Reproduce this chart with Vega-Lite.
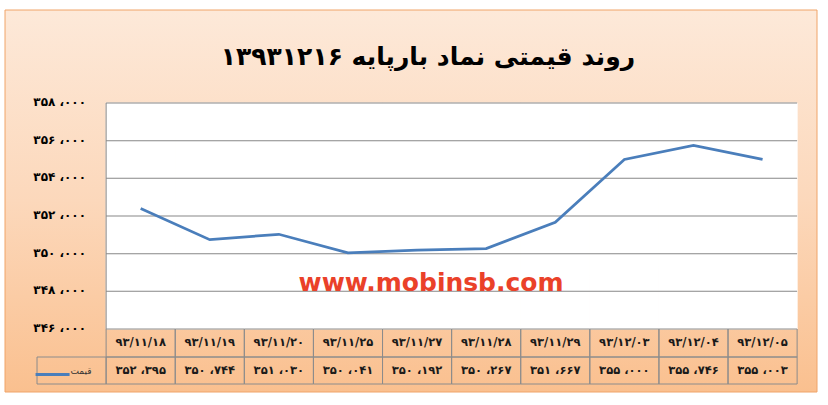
{
  "$schema": "https://vega.github.io/schema/vega-lite/v6.json",
  "width": 812,
  "height": 382,
  "autosize": {"type": "none"},
  "padding": {"left": 5, "top": 10, "right": 11, "bottom": 13},
  "background": "white",
  "title": {
    "text": "روند قیمتی نماد بارپایه ۱۳۹۳۱۲۱۶",
    "font": "DejaVu Sans",
    "fontSize": 25,
    "fontWeight": "bold",
    "color": "#000000",
    "anchor": "middle",
    "dx": 17,
    "offset": -60
  },
  "data": {
    "values": [
      {"date": "۹۳/۱۱/۱۸", "price": 352395},
      {"date": "۹۳/۱۱/۱۹", "price": 350744},
      {"date": "۹۳/۱۱/۲۰", "price": 351030},
      {"date": "۹۳/۱۱/۲۵", "price": 350041},
      {"date": "۹۳/۱۱/۲۷", "price": 350192},
      {"date": "۹۳/۱۱/۲۸", "price": 350267},
      {"date": "۹۳/۱۱/۲۹", "price": 351667},
      {"date": "۹۳/۱۲/۰۳", "price": 355000},
      {"date": "۹۳/۱۲/۰۴", "price": 355746},
      {"date": "۹۳/۱۲/۰۵", "price": 355003}
    ]
  },
  "datasets": {
    "ticks": [
      {"v": 346000}, {"v": 348000}, {"v": 350000}, {"v": 352000},
      {"v": 354000}, {"v": 356000}, {"v": 358000}
    ]
  },
  "layer": [
    {
      "data": {"values": [{"box": "chart"}]},
      "mark": {
        "type": "rect",
        "stroke": "#f0a468",
        "strokeWidth": 1,
        "fill": {
          "gradient": "linear",
          "x1": 0, "y1": 0, "x2": 0, "y2": 1,
          "stops": [
            {"offset": 0, "color": "#fde9d9"},
            {"offset": 0.5, "color": "#fcd8bb"},
            {"offset": 1, "color": "#fac08f"}
          ]
        }
      },
      "encoding": {
        "x": {"value": 0},
        "x2": {"value": "width"},
        "y": {"value": 0},
        "y2": {"value": "height"}
      }
    },
    {
      "mark": {"type": "rect", "fill": "white", "stroke": "white", "strokeWidth": 1},
      "encoding": {
        "x": {"field": "date", "type": "nominal", "axis": null},
        "y": {"datum": 346000, "axis": null},
        "y2": {"datum": 358000}
      }
    },
    {
      "data": {"name": "ticks"},
      "transform": [{"filter": "datum.v > 346000"}],
      "mark": {"type": "tick", "orient": "horizontal", "size": 691, "thickness": 1, "color": "#878787", "opacity": 1, "xOffset": 40.6},
      "encoding": {
        "y": {"field": "v", "type": "quantitative", "axis": null}
      }
    },
    {
      "data": {"name": "ticks"},
      "transform": [
        {
          "calculate": "replace(replace(replace(replace(replace(replace(replace(replace(replace(replace(replace(format(datum.v, ','), regexp('0', 'g'), '۰'), regexp('1', 'g'), '۱'), regexp('2', 'g'), '۲'), regexp('3', 'g'), '۳'), regexp('4', 'g'), '۴'), regexp('5', 'g'), '۵'), regexp('6', 'g'), '۶'), regexp('7', 'g'), '۷'), regexp('8', 'g'), '۸'), regexp('9', 'g'), '۹'), regexp(',', 'g'), ' ،')",
          "as": "label"
        }
      ],
      "mark": {"type": "text", "font": "DejaVu Sans", "fontSize": 12, "fontWeight": "bold", "color": "#000000", "align": "right", "baseline": "middle", "xOffset": -325, "yOffset": -1},
      "encoding": {
        "y": {"field": "v", "type": "quantitative", "axis": null},
        "text": {"field": "label"}
      }
    },
    {
      "transform": [{"filter": "datum.date == '۹۳/۱۱/۱۸'"}],
      "mark": {"type": "rule", "color": "#878787", "strokeWidth": 1},
      "encoding": {
        "x": {"field": "date", "type": "nominal", "bandPosition": 0, "axis": null},
        "y": {"datum": 346000, "axis": null},
        "y2": {"datum": 358000}
      }
    },
    {
      "mark": {"type": "rect", "fill": "transparent", "stroke": "#8c8c8c", "strokeWidth": 1},
      "encoding": {
        "x": {"field": "date", "type": "nominal", "axis": null},
        "y": {"datum": 346000, "axis": null},
        "y2": {"datum": 344513}
      }
    },
    {
      "mark": {"type": "rect", "fill": "transparent", "stroke": "#8c8c8c", "strokeWidth": 1},
      "encoding": {
        "x": {"field": "date", "type": "nominal", "axis": null},
        "y": {"datum": 344513, "axis": null},
        "y2": {"datum": 343079}
      }
    },
    {
      "mark": {"type": "text", "font": "DejaVu Sans", "fontSize": 11.5, "fontWeight": "bold", "color": "#1a1a1a"},
      "encoding": {
        "x": {"field": "date", "type": "nominal", "axis": null},
        "y": {"datum": 345256, "axis": null},
        "text": {"field": "date"}
      }
    },
    {
      "transform": [
        {
          "calculate": "replace(replace(replace(replace(replace(replace(replace(replace(replace(replace(replace(format(datum.price, ','), regexp('0', 'g'), '۰'), regexp('1', 'g'), '۱'), regexp('2', 'g'), '۲'), regexp('3', 'g'), '۳'), regexp('4', 'g'), '۴'), regexp('5', 'g'), '۵'), regexp('6', 'g'), '۶'), regexp('7', 'g'), '۷'), regexp('8', 'g'), '۸'), regexp('9', 'g'), '۹'), regexp(',', 'g'), ' ،')",
          "as": "label"
        }
      ],
      "mark": {"type": "text", "font": "DejaVu Sans", "fontSize": 11.5, "fontWeight": "bold", "color": "#1a1a1a"},
      "encoding": {
        "x": {"field": "date", "type": "nominal", "axis": null},
        "y": {"datum": 343796, "axis": null},
        "text": {"field": "label"}
      }
    },
    {
      "data": {"values": [{"label": "قیمت"}]},
      "mark": {"type": "rect", "fill": "transparent", "stroke": "#8c8c8c", "strokeWidth": 1},
      "encoding": {
        "x": {"field": "label", "type": "nominal", "axis": null},
        "y": {"datum": 344513, "axis": null},
        "y2": {"datum": 343079}
      }
    },
    {
      "data": {"values": [{"label": "قیمت"}]},
      "mark": {"type": "tick", "orient": "horizontal", "size": 34, "thickness": 3, "color": "#4a7ebb", "opacity": 1, "xOffset": -19, "yOffset": 4},
      "encoding": {
        "x": {"field": "label", "type": "nominal", "axis": null},
        "y": {"datum": 343796, "axis": null}
      }
    },
    {
      "data": {"values": [{"label": "قیمت"}]},
      "mark": {"type": "text", "font": "DejaVu Sans", "fontSize": 9, "color": "#333333", "align": "right", "xOffset": 20},
      "encoding": {
        "x": {"field": "label", "type": "nominal", "axis": null},
        "y": {"datum": 343796, "axis": null},
        "text": {"field": "label"}
      }
    },
    {
      "transform": [{"filter": "datum.date == '۹۳/۱۱/۲۷'"}],
      "mark": {"type": "text", "font": "DejaVu Sans", "fontSize": 25, "fontWeight": "bold", "color": "#ea4129", "xOffset": 14},
      "encoding": {
        "x": {"field": "date", "type": "nominal", "axis": null},
        "y": {"datum": 348440, "axis": null},
        "text": {"value": "www.mobinsb.com"}
      }
    },
    {
      "mark": {"type": "line", "color": "#4a7ebb", "strokeWidth": 2.75},
      "encoding": {
        "x": {
          "field": "date",
          "type": "nominal",
          "axis": null,
          "scale": {
            "type": "band",
            "domain": ["قیمت", "۹۳/۱۱/۱۸", "۹۳/۱۱/۱۹", "۹۳/۱۱/۲۰", "۹۳/۱۱/۲۵", "۹۳/۱۱/۲۷", "۹۳/۱۱/۲۸", "۹۳/۱۱/۲۹", "۹۳/۱۲/۰۳", "۹۳/۱۲/۰۴", "۹۳/۱۲/۰۵"],
            "paddingInner": 0,
            "paddingOuter": 0.3755,
            "align": 0.617
          }
        },
        "y": {
          "field": "price",
          "type": "quantitative",
          "axis": null,
          "scale": {"domain": [342655, 362938], "nice": false, "zero": false}
        }
      }
    }
  ],
  "config": {
    "view": {"stroke": null}
  }
}
